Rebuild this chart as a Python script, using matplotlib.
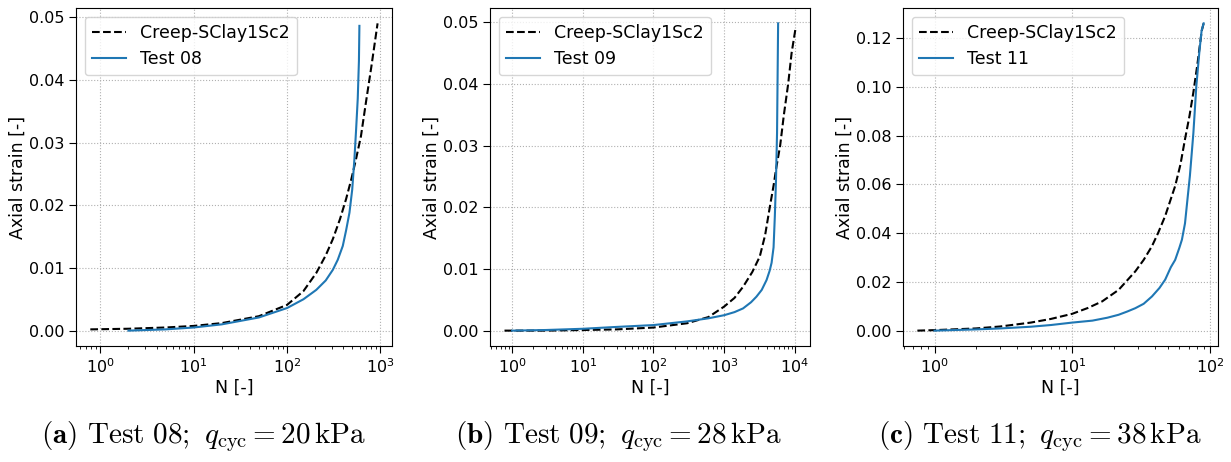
import numpy as np
import matplotlib
matplotlib.use("Agg")
import matplotlib.pyplot as plt

plt.rcParams['mathtext.fontset'] = 'cm'
plt.rcParams['font.size'] = 12.5
plt.rcParams['xtick.labelsize'] = 11.5
plt.rcParams['ytick.labelsize'] = 11.5

# Panel (a): Test 08
n_creep_08 = [0.78, 2, 5, 10, 20, 50, 100, 150, 206, 260, 310, 370, 430, 490, 550, 620, 703, 800, 935]
e_creep_08 = [0.0002, 0.0003, 0.0005, 0.00075, 0.0012, 0.0023, 0.0041, 0.0063, 0.0092, 0.012, 0.0146,
              0.0178, 0.021, 0.0242, 0.0274, 0.031, 0.0365, 0.042, 0.049]
n_test_08 = [2, 5, 10, 20, 50, 100, 150, 206, 260, 310, 350, 396, 430, 467, 500, 528, 550, 573, 590, 597]
e_test_08 = [0.0, 0.0002, 0.0005, 0.001, 0.0021, 0.0036, 0.005, 0.0065, 0.008, 0.0097, 0.0113, 0.0135,
             0.016, 0.0188, 0.0225, 0.0274, 0.032, 0.037, 0.043, 0.0486]

# Panel (b): Test 09
n_creep_09 = [0.78, 3, 10, 30, 100, 300, 600, 1000, 1400, 1850, 2500, 3190, 3800, 4420, 5000, 5500,
              6200, 7000, 8050, 9000, 10200]
e_creep_09 = [0.0, 0.0, 0.0001, 0.0002, 0.0005, 0.0012, 0.0022, 0.0039, 0.0053, 0.0071, 0.0095, 0.012,
              0.0155, 0.02, 0.0235, 0.0266, 0.030, 0.035, 0.040, 0.045, 0.0489]
n_test_09 = [1, 3, 10, 30, 100, 300, 600, 1000, 1400, 1850, 2400, 2860, 3400, 3980, 4400, 4690, 5000,
             5210, 5400, 5600, 5800]
e_test_09 = [0.0, 0.0001, 0.0003, 0.0006, 0.0009, 0.0015, 0.002, 0.0025, 0.003, 0.0036, 0.0046, 0.0055,
             0.0066, 0.0082, 0.0097, 0.011, 0.0135, 0.0185, 0.024, 0.032, 0.0498]

# Panel (c): Test 11
n_creep_11 = [0.75, 1, 2, 3, 5, 7, 10, 13, 16.5, 21.7, 28.7, 33, 37.9, 42, 47.3, 52, 55.9, 61, 65.9,
              71, 75.8, 81, 87.2, 90]
e_creep_11 = [0.0, 0.0002, 0.0009, 0.0017, 0.0033, 0.0048, 0.0069, 0.0093, 0.012, 0.0167, 0.0243, 0.029,
              0.0346, 0.040, 0.047, 0.054, 0.0593, 0.068, 0.0785, 0.088, 0.0977, 0.109, 0.123, 0.126]
n_test_11 = [1, 2, 3, 5, 7, 10, 14, 18, 21.7, 25, 28.7, 33, 37.9, 43, 47.3, 52, 55.9, 60, 62.6, 65.9,
             69, 71.5, 75.8, 79.7, 84, 87, 90]
e_test_11 = [0.0, 0.0005, 0.0009, 0.0016, 0.0023, 0.0033, 0.0041, 0.0053, 0.0065, 0.0078, 0.0092, 0.011,
             0.014, 0.0175, 0.0209, 0.026, 0.029, 0.034, 0.0373, 0.044, 0.055, 0.0634, 0.081, 0.1005,
             0.115, 0.123, 0.126]

test_names = ["Test 08", "Test 09", "Test 11"]
captions = [r"$\mathbf{(a)}$ $\mathrm{Test\ 08;}$ $q_{\mathrm{cyc}} = 20\,\mathrm{kPa}$",
            r"$\mathbf{(b)}$ $\mathrm{Test\ 09;}$ $q_{\mathrm{cyc}} = 28\,\mathrm{kPa}$",
            r"$\mathbf{(c)}$ $\mathrm{Test\ 11;}$ $q_{\mathrm{cyc}} = 38\,\mathrm{kPa}$"]
caption_x = [203, 618, 1040]
y_ticks = [np.arange(0, 0.051, 0.01), np.arange(0, 0.051, 0.01), np.arange(0, 0.121, 0.02)]

panels = [(n_creep_08, e_creep_08, n_test_08, e_test_08),
          (n_creep_09, e_creep_09, n_test_09, e_test_09),
          (n_creep_11, e_creep_11, n_test_11, e_test_11)]

fig = plt.figure(figsize=(12.31, 4.62), dpi=100)
lefts = [0.0617, 0.398, 0.7336]
widths = [0.2567, 0.260, 0.2558]

for i, (nc, ec, nt, et) in enumerate(panels):
    ax = fig.add_axes([lefts[i], 0.2511, widths[i], 0.7316])
    ax.plot(nc, ec, 'k--', lw=1.5, label="Creep-SClay1Sc2")
    ax.plot(nt, et, '-', color='#1f77b4', lw=1.5, label=test_names[i])
    ax.set_xscale('log')
    ax.set_yticks(y_ticks[i])
    ax.tick_params(which='major', length=5, pad=3)
    ax.grid(True, linestyle=':', color='#b0b0b0', lw=0.8)
    ax.set_xlabel("N [-]", labelpad=2)
    ax.set_ylabel("Axial strain [-]", labelpad=2)
    ax.legend(loc='upper left', fontsize=12.5)
    fig.text(caption_x[i] / 1231, 1 - 437 / 462, captions[i], ha='center', va='center',
             fontsize=21, family='serif')

plt.savefig("out.png", dpi=100)
